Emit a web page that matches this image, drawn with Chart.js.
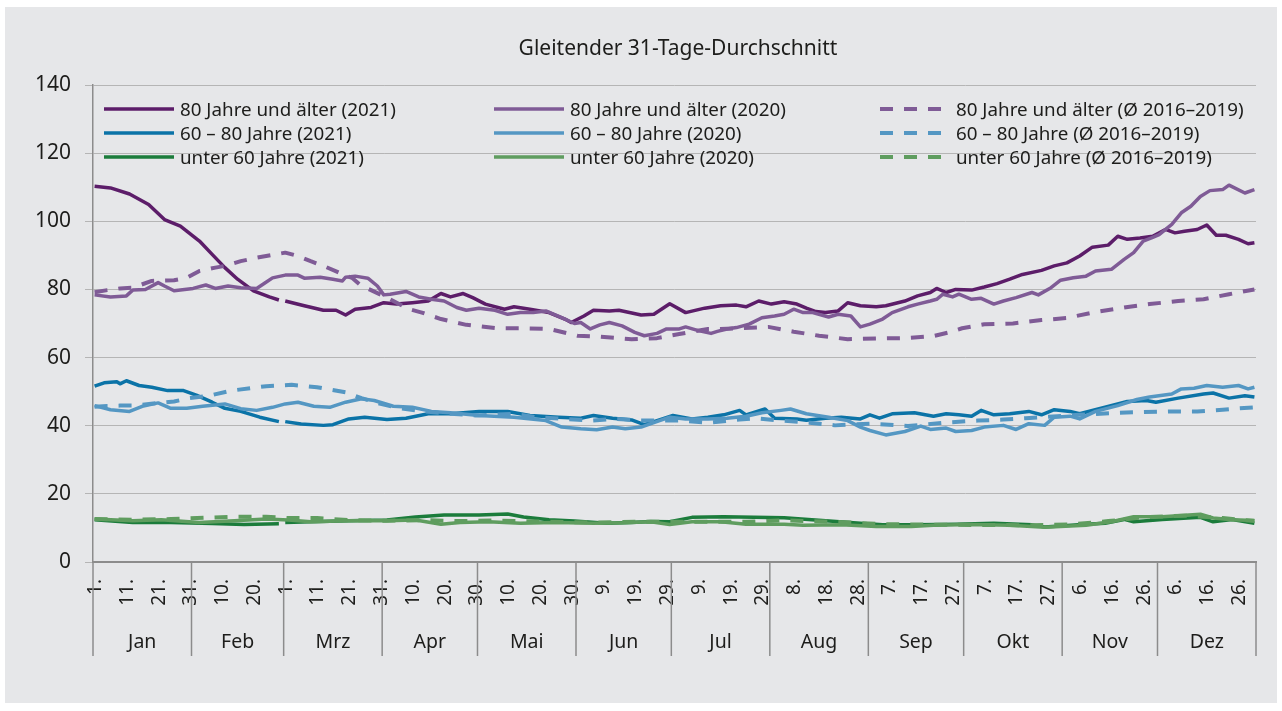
<!DOCTYPE html>
<html>
<head>
<meta charset="utf-8">
<script src="https://cdn.jsdelivr.net/npm/chart.js@4.4.1/dist/chart.umd.min.js"></script>
<style>
  body { margin: 0; background: #fff; font-family: "Noto Sans", sans-serif; color: #1d1d1b; }
  #frame { position: absolute; left: 5px; top: 7px; width: 1272px; height: 696px; background: #e6e7e9; }
  #chart { position: absolute; left: 0; top: 0; }
  #title { position: absolute; left: 428px; width: 500px; top: 33px; text-align: center; font-size: 21px; }
  .lg { position: absolute; height: 24px; display: flex; align-items: center; font-size: 18.8px; white-space: nowrap; }
  .lg svg { margin-right: 6px; }
</style>
</head>
<body>
<div id="frame"></div>
<canvas id="chart" width="1282" height="711"></canvas>
<div id="title">Gleitender 31-Tage-Durchschnitt</div>
<div id="legend"></div>
<script>
// Tag-Index 0..365 (Schaltjahr-Raster), null = 29. Feb. fehlt in 2021
const monthNames = ['Jan', 'Feb', 'Mrz', 'Apr', 'Mai', 'Jun', 'Jul', 'Aug', 'Sep', 'Okt', 'Nov', 'Dez'];
const monthLengths = [31, 29, 31, 30, 31, 30, 31, 31, 30, 31, 30, 31];
const tickDays = [0, 10, 20, 30, 40, 50, 60, 70, 80, 90, 100, 110, 120, 130, 140, 150, 160, 170, 180,
  190, 200, 210, 220, 230, 240, 250, 260, 270, 280, 290, 300, 310, 320, 330, 340, 350, 360];
const yTicks = [0, 20, 40, 60, 80, 100, 120, 140];

const alt80_2021 = [[0,110.3],[5,109.8],[11,108.0],[17,104.9],[22,100.5],[27,98.6],[33,94.2],[37,90.3],[41,86.4],[45,83.0],[50,79.6],[55,77.8],[58,76.9],[59,null],[60,76.6],[66,75.2],[72,73.9],[76,73.9],[79,72.5],[82,74.2],[87,74.7],[91,76.1],[95,75.7],[100,76.1],[105,76.6],[109,78.8],[112,77.8],[116,78.8],[119,77.6],[123,75.7],[129,74.2],[132,74.9],[137,74.2],[143,73.2],[148,71.3],[150,70.3],[154,72.2],[157,73.9],[162,73.7],[165,73.9],[172,72.5],[176,72.7],[181,75.8],[186,73.2],[192,74.5],[197,75.2],[202,75.4],[205,74.9],[209,76.6],[213,75.7],[217,76.4],[221,75.7],[224,74.5],[227,73.5],[230,73.2],[234,73.7],[237,76.1],[241,75.2],[246,74.9],[249,75.2],[255,76.6],[259,78.1],[263,79.1],[265,80.3],[268,79.1],[271,80.0],[276,79.8],[280,80.7],[284,81.7],[288,83.0],[292,84.4],[298,85.6],[302,86.9],[306,87.8],[310,89.8],[314,92.4],[319,93.0],[322,95.6],[325,94.7],[329,95.1],[333,95.6],[337,97.6],[340,96.6],[343,97.1],[347,97.6],[350,98.9],[353,95.9],[356,95.9],[360,94.7],[363,93.4],[365,93.7]];
const alt80_2020 = [[0,78.4],[5,77.8],[10,78.1],[12,79.8],[16,80.0],[20,82.0],[22,81.0],[25,79.6],[31,80.3],[35,81.3],[38,80.3],[42,81.0],[46,80.5],[51,80.3],[53,81.5],[56,83.4],[60,84.2],[64,84.2],[66,83.3],[71,83.6],[75,83.0],[78,82.5],[79,83.6],[82,83.9],[86,83.3],[89,81.0],[91,78.4],[93,78.6],[98,79.4],[102,77.8],[106,77.1],[110,76.6],[114,74.7],[117,73.9],[121,74.5],[126,73.9],[130,72.7],[134,73.2],[138,73.2],[142,73.7],[147,71.7],[151,70.0],[153,70.3],[156,68.4],[159,69.6],[162,70.3],[166,69.3],[170,67.4],[173,66.4],[177,67.1],[180,68.4],[184,68.4],[186,69.0],[190,67.9],[194,67.1],[196,67.7],[199,68.4],[202,68.8],[206,69.8],[210,71.7],[214,72.2],[217,72.7],[220,74.2],[223,73.2],[226,73.2],[231,71.9],[234,72.7],[238,72.2],[241,69.0],[244,69.8],[248,71.3],[251,73.2],[256,74.9],[259,75.7],[263,76.6],[265,77.1],[267,78.6],[270,77.8],[272,78.6],[276,77.1],[279,77.4],[283,75.7],[286,76.6],[290,77.6],[295,79.1],[297,78.4],[301,80.5],[304,82.7],[308,83.4],[312,83.9],[315,85.4],[320,85.9],[324,88.8],[327,90.8],[330,94.2],[333,95.3],[335,96.1],[339,99.1],[342,102.5],[345,104.4],[348,107.3],[351,109.0],[355,109.3],[357,110.6],[362,108.3],[365,109.3]];
const alt80_avg = [[0,79.2],[4,79.8],[8,80.3],[12,80.5],[18,82.5],[25,82.7],[29,83.4],[33,85.4],[38,86.4],[41,86.9],[46,88.3],[51,89.3],[54,89.8],[60,90.8],[64,89.8],[68,88.3],[72,86.9],[77,84.9],[81,83.4],[84,81.0],[87,79.8],[92,77.6],[99,74.2],[103,73.2],[109,71.3],[117,69.6],[127,68.6],[135,68.6],[143,68.4],[152,66.4],[159,66.1],[169,65.4],[177,65.7],[184,66.9],[193,68.4],[197,68.4],[212,69.0],[220,67.6],[228,66.4],[237,65.4],[246,65.6],[255,65.7],[264,66.3],[269,67.4],[273,68.6],[280,69.8],[289,70.0],[298,71.0],[306,71.6],[314,73.2],[324,74.7],[332,75.7],[341,76.6],[349,77.1],[357,78.6],[365,80.0]];

const mid_2021 = [[0,51.6],[3,52.6],[7,52.9],[8,52.3],[10,53.2],[14,51.8],[18,51.3],[23,50.3],[28,50.3],[32,49.0],[37,46.9],[41,45.1],[46,44.2],[52,42.5],[58,41.2],[59,null],[60,41.2],[65,40.5],[72,40.1],[75,40.3],[80,42.0],[85,42.5],[92,41.8],[98,42.2],[105,43.5],[112,43.5],[121,44.2],[130,44.2],[137,43.0],[146,42.5],[153,42.2],[157,43.0],[163,42.2],[169,41.7],[173,40.3],[177,41.5],[182,43.0],[188,42.0],[193,42.5],[198,43.2],[203,44.5],[205,43.2],[211,44.9],[214,42.2],[221,42.0],[224,41.6],[230,42.2],[235,42.5],[241,42.0],[244,43.2],[247,42.2],[251,43.5],[258,43.8],[264,42.8],[268,43.5],[272,43.2],[276,42.8],[279,44.5],[283,43.2],[288,43.5],[294,44.2],[298,43.2],[302,44.7],[307,44.2],[310,43.5],[318,45.4],[325,47.1],[331,47.4],[334,46.9],[341,48.1],[349,49.3],[352,49.6],[357,48.1],[362,48.8],[365,48.4]];
const mid_2020 = [[0,45.9],[5,44.7],[11,44.2],[15,45.7],[20,46.7],[24,45.1],[29,45.1],[34,45.7],[41,46.4],[46,45.0],[51,44.5],[56,45.4],[60,46.4],[64,46.9],[69,45.7],[74,45.4],[79,46.9],[84,47.9],[88,47.4],[94,45.7],[100,45.4],[106,44.2],[112,43.8],[121,43.0],[132,42.5],[142,41.5],[147,39.6],[153,39.1],[158,38.8],[163,39.6],[167,39.1],[172,39.6],[176,40.9],[181,42.5],[186,42.0],[193,42.0],[199,42.2],[205,42.8],[210,43.8],[216,44.5],[219,44.9],[224,43.5],[231,42.5],[237,41.5],[241,39.6],[244,38.6],[249,37.3],[255,38.3],[260,39.9],[263,38.9],[268,39.3],[271,38.3],[276,38.6],[280,39.6],[286,40.1],[290,38.9],[294,40.6],[299,40.1],[302,42.5],[307,42.8],[310,42.0],[315,44.2],[322,45.9],[328,47.7],[332,48.4],[339,49.3],[342,50.8],[346,51.0],[350,51.8],[355,51.3],[360,51.8],[363,50.8],[365,51.3]];
const mid_avg = [[0,45.6],[4,45.8],[8,45.9],[12,45.9],[25,47.1],[30,48.1],[36,48.8],[43,50.3],[54,51.6],[62,52.0],[70,51.3],[79,49.8],[84,48.1],[90,46.4],[96,45.1],[104,44.2],[112,43.5],[120,43.0],[132,43.5],[139,42.5],[148,42.0],[156,41.5],[164,42.0],[172,41.5],[184,41.5],[193,40.9],[203,41.8],[208,42.2],[216,41.5],[225,40.9],[233,40.1],[244,40.6],[250,40.3],[256,39.9],[261,40.3],[269,41.0],[278,41.5],[286,41.8],[293,42.2],[303,42.8],[310,43.2],[322,43.8],[330,44.0],[339,44.2],[347,44.2],[355,44.7],[360,45.1],[365,45.4]];

const u60_2021 = [[0,12.4],[12,11.6],[24,11.6],[37,11.3],[47,11.0],[58,11.2],[59,null],[60,11.6],[68,11.8],[80,12.1],[92,12.3],[101,13.2],[110,13.8],[121,13.8],[130,14.1],[135,13.2],[143,12.4],[151,12.0],[161,11.4],[169,11.6],[175,11.9],[181,11.8],[188,13.1],[198,13.3],[217,13.0],[229,12.2],[241,11.4],[248,10.9],[259,10.9],[271,11.1],[283,11.4],[295,10.9],[299,10.3],[312,11.1],[318,11.4],[324,12.5],[327,11.8],[336,12.5],[348,13.1],[352,11.8],[358,12.5],[365,11.4]];
const u60_2020 = [[0,12.6],[12,12.1],[21,12.4],[33,11.6],[44,12.1],[54,12.6],[61,12.3],[68,11.8],[80,12.1],[92,12.1],[101,12.3],[109,11.1],[115,11.6],[124,11.8],[134,11.4],[145,11.6],[157,11.4],[166,11.5],[175,11.8],[181,11.0],[188,11.8],[197,11.8],[205,11.1],[217,11.1],[223,10.8],[235,10.9],[246,10.4],[257,10.4],[264,10.8],[276,11.0],[288,10.8],[299,10.2],[312,10.8],[320,11.8],[327,13.3],[336,13.3],[348,14.0],[352,12.9],[358,12.4],[365,12.2]];
const u60_avg = [[0,12.6],[12,12.4],[24,12.6],[35,13.0],[44,13.3],[54,13.3],[61,12.9],[70,12.9],[80,12.3],[92,12.1],[103,12.3],[115,12.0],[125,12.2],[135,12.0],[145,11.8],[157,11.6],[170,11.8],[185,11.8],[198,11.8],[205,11.8],[217,12.2],[233,11.8],[248,11.1],[271,10.9],[295,10.8],[307,11.0],[319,12.0],[330,13.1],[343,13.6],[355,12.9],[365,12.0]];

const seriesLabels = [
  '80 Jahre und älter (2021)', '80 Jahre und älter (2020)', '80 Jahre und älter (Ø 2016–2019)',
  '60 – 80 Jahre (2021)', '60 – 80 Jahre (2020)', '60 – 80 Jahre (Ø 2016–2019)',
  'unter 60 Jahre (2021)', 'unter 60 Jahre (2020)', 'unter 60 Jahre (Ø 2016–2019)'
];
const seriesData = [alt80_2021, alt80_2020, alt80_avg, mid_2021, mid_2020, mid_avg, u60_2021, u60_2020, u60_avg];
const seriesColors = ['#5c1d69', '#7f5b96', '#7f5b96', '#0b73a7', '#5497c3', '#5497c3', '#1b7c3b', '#5f9d5f', '#5f9d5f'];
const DASH = [13, 11];

// Tag im Monat zu einem Tag-Index
function dayOfMonth(idx) {
  let m = 0;
  while (idx >= monthLengths[m]) { idx -= monthLengths[m]; m++; }
  return idx + 1;
}

const datasets = seriesData.map((d, i) => ({
  label: seriesLabels[i],
  data: d.map(p => ({ x: p[0], y: p[1] })),
  borderColor: seriesColors[i],
  borderWidth: i % 3 === 2 ? 4 : 3.5,
  borderDash: i % 3 === 2 ? DASH : [],
  borderJoinStyle: 'round',
  pointRadius: 0,
  tension: 0,
  spanGaps: false,
  order: 9 - i
}));

// Tagesbeschriftung (senkrecht) und Monatszeile unter der Achse
const monthAxis = {
  id: 'monthAxis',
  afterDraw(chart) {
    const { ctx, chartArea } = chart;
    const x = chart.scales.x;
    ctx.save();
    ctx.fillStyle = '#1d1d1b';
    ctx.font = '19px "Noto Sans"';
    ctx.textAlign = 'right';
    ctx.textBaseline = 'middle';
    tickDays.forEach(v => {
      ctx.save();
      ctx.translate(x.getPixelForValue(v) + 1, chartArea.bottom + 17);
      ctx.rotate(-Math.PI / 2);
      ctx.fillText(dayOfMonth(v) + '.', 0, 0);
      ctx.restore();
    });

    ctx.strokeStyle = '#8c8c8c';
    ctx.lineWidth = 1.5;
    ctx.font = '19.5px "Noto Sans"';
    ctx.textAlign = 'center';
    let start = 0;
    for (let m = 0; m <= monthLengths.length; m++) {
      const px = x.getPixelForValue(start - 0.5);
      ctx.beginPath();
      ctx.moveTo(px, chartArea.bottom);
      ctx.lineTo(px, chartArea.bottom + 94);
      ctx.stroke();
      if (m < monthLengths.length) {
        const mid = x.getPixelForValue(start - 0.5 + monthLengths[m] / 2);
        ctx.fillText(monthNames[m], mid, chartArea.bottom + 80);
        start += monthLengths[m];
      }
    }
    ctx.restore();
  }
};

Chart.defaults.font.family = '"Noto Sans", sans-serif';
Chart.defaults.color = '#1d1d1b';

new Chart(document.getElementById('chart').getContext('2d'), {
  type: 'line',
  data: { datasets },
  options: {
    responsive: false,
    animation: false,
    devicePixelRatio: 1,
    layout: { padding: { top: 85, right: 26, left: 0, bottom: 0 } },
    plugins: { legend: { display: false }, tooltip: { enabled: false }, title: { display: false } },
    scales: {
      x: {
        type: 'linear',
        min: -0.5,
        max: 365.5,
        afterFit(scale) { scale.height = 149; },
        afterBuildTicks(scale) { scale.ticks = tickDays.map(v => ({ value: v })); },
        ticks: { display: false },
        grid: { display: true, drawOnChartArea: false, drawTicks: false },
        border: { display: true, color: '#8c8c8c', width: 2 }
      },
      y: {
        min: 0,
        max: 140,
        afterFit(scale) { scale.width = 93; },
        afterBuildTicks(scale) { scale.ticks = yTicks.map(v => ({ value: v })); },
        ticks: { padding: 14, font: { size: 21 } },
        grid: { color: '#b5b5b5', lineWidth: 1, tickLength: 8, drawTicks: true },
        border: { display: true, color: '#8c8c8c', width: 1.5 }
      }
    }
  },
  plugins: [monthAxis]
});

// Legende, drei Spalten wie im Original
const legendCols = [104, 494, 880];
const legendRows = [97, 121, 145];
const legend = document.getElementById('legend');
seriesLabels.forEach((label, i) => {
  const row = Math.floor(i / 3), col = i % 3;
  const dashed = col === 2;
  const item = document.createElement('div');
  item.className = 'lg';
  item.style.left = legendCols[col] + 'px';
  item.style.top = legendRows[row] + 'px';
  item.innerHTML =
    '<svg width="70" height="8"><line x1="0" y1="4" x2="70" y2="4" stroke="' + seriesColors[i] +
    '" stroke-width="' + (dashed ? 4 : 3.5) + '"' + (dashed ? ' stroke-dasharray="' + DASH.join(',') + '"' : '') +
    ' /></svg><span>' + label + '</span>';
  legend.appendChild(item);
});
</script>
</body>
</html>
